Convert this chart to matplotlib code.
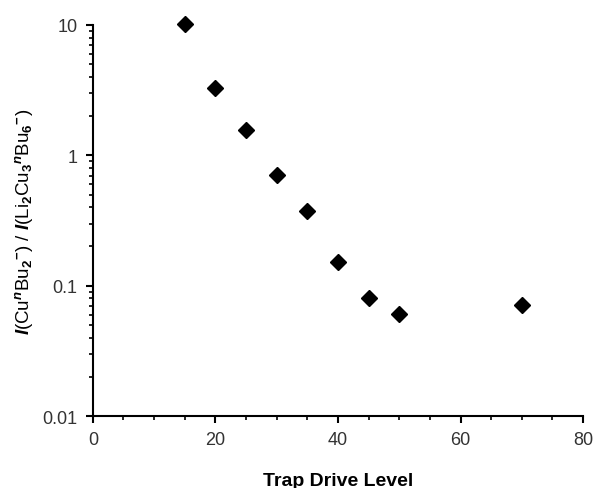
import numpy as np
import matplotlib
matplotlib.use('Agg')
from matplotlib import pyplot as plt
from matplotlib.ticker import MultipleLocator, LogLocator, FixedLocator, NullFormatter

plt.rcParams['font.family'] = ['Liberation Sans', 'DejaVu Sans']
plt.rcParams['mathtext.fontset'] = 'custom'
plt.rcParams['mathtext.rm'] = 'Liberation Sans:bold'
plt.rcParams['mathtext.it'] = 'Liberation Sans:bold:italic'
plt.rcParams['mathtext.bf'] = 'Liberation Sans:bold'

# trap drive level vs intensity ratio
drive = [15, 20, 25, 30, 35, 40, 45, 50, 70]
ratio = [10.2, 3.3, 1.56, 0.71, 0.373, 0.152, 0.080, 0.061, 0.071]

xticks = [0, 20, 40, 60, 80]
yticks = [0.01, 0.1, 1, 10]
ytick_labels = ['0.01', '0.1', '1', '10']

fig = plt.figure(figsize=(5.95, 4.89), dpi=100)
ax = fig.add_axes([0.156, 0.147, 0.824, 0.800])

ax.plot(drive, ratio, linestyle='none', marker='D', markersize=8.5, color='black', clip_on=False, zorder=5)

ax.set_yscale('log')
ax.set_xlim(0, 80)
ax.set_ylim(0.01, 10)

ax.set_xticks(xticks)
ax.xaxis.set_minor_locator(MultipleLocator(5))
ax.yaxis.set_major_locator(FixedLocator(yticks))
ax.set_yticklabels(ytick_labels)
ax.yaxis.set_minor_locator(LogLocator(base=10, subs=np.arange(2, 10)))
ax.yaxis.set_minor_formatter(NullFormatter())

for side in ['top', 'right']:
    ax.spines[side].set_visible(False)
for side in ['left', 'bottom']:
    ax.spines[side].set_linewidth(1.5)

ax.tick_params(which='major', direction='out', length=5, width=1.5, labelsize=13, labelcolor='#333333', pad=6)
ax.tick_params(which='minor', direction='out', length=3, width=1.2)

ax.set_xlabel('Trap Drive Level', fontsize=14, fontweight='bold', labelpad=17)
ax.set_ylabel(r'$\mathit{I}$(Cu$^{\mathit{n}}$Bu$_2$$^{-}$) / $\mathit{I}$(Li$_2$Cu$_3$$^{\mathit{n}}$Bu$_6$$^{-}$)',
              fontsize=13.5, labelpad=5)

fig.savefig('out.png', dpi=100)
